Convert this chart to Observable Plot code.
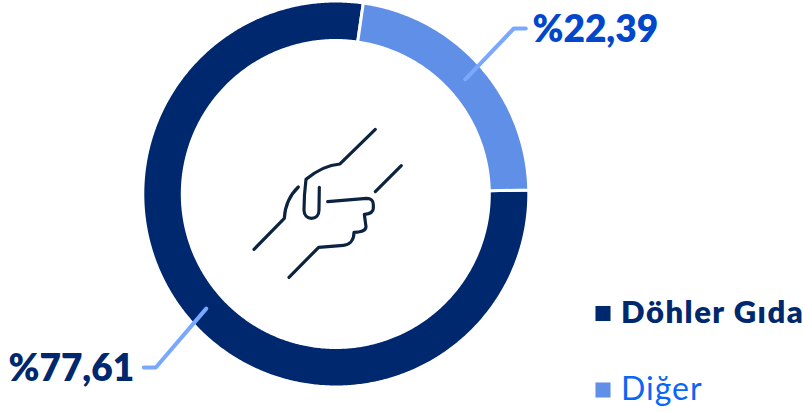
<!DOCTYPE html>
<html lang="tr">
<head>
<meta charset="utf-8">
<style>
html,body{margin:0;padding:0;background:#fff}svg{display:block}
.legend-strong text{letter-spacing:1.5px}
.legend-plain text{letter-spacing:1px}
</style>
<script src="https://cdn.jsdelivr.net/npm/d3@7"></script>
<script src="https://cdn.jsdelivr.net/npm/@observablehq/plot@0.6"></script>
</head>
<body>
<div id="chart"></div>
<script>
const categories = ["Döhler Gıda", "Diğer"];
const shares = [77.61, 22.39];
const valueLabels = ["%77,61", "%22,39"];
const sliceColors = ["#00286e", "#5f8fe6"];
const legendColors = ["#00286e", "#0a66f5"];
const valueColors = ["#00286e", "#0047cc"];

const W = 803, H = 412;
const cx = 335.3, cy = 193.5, rOut = 193, rIn = 153.5, rMid = 173;
const startDeg = 88.8; // Döhler Gıda starts at the right, Diğer ends there

const polar = (deg, r) => [cx + r * Math.sin(deg * Math.PI / 180), cy - r * Math.cos(deg * Math.PI / 180)];

let acc = startDeg;
const slices = categories.map((category, i) => {
  const a0 = acc, a1 = acc + shares[i] * 3.6;
  acc = a1;
  const n = Math.ceil(a1 - a0) * 2;
  const outer = d3.range(n + 1).map(k => polar(a0 + (a1 - a0) * k / n, rOut));
  const inner = d3.range(n + 1).map(k => polar(a1 - (a1 - a0) * k / n, rIn));
  const ring = [...outer, ...inner, outer[0]].map(([x, y]) => ({x, y, category}));
  return {category, ring, mid: (a0 + a1) / 2};
});

const leaderShape = [
  {side: -1, elbow: [-180, 173.5], stub: -12},
  {side: 1, elbow: [178, -165.5], stub: 12}
];
const leaders = slices.flatMap((s, i) => {
  const [sx, sy] = polar(s.mid, rMid);
  const ex = cx + leaderShape[i].elbow[0], ey = cy + leaderShape[i].elbow[1];
  return [[sx, sy], [ex, ey], [ex + leaderShape[i].stub, ey]].map(([x, y]) => ({x, y, category: s.category}));
});

const valueTable = categories.map((category, i) => ({category, label: valueLabels[i], color: valueColors[i]}));
const legendTable = categories.map((category, i) => ({category, square: sliceColors[i], color: legendColors[i]}));

const handPaths = [
  "M436 58L330 162C295 165 258 183 228 208C224 240 222 270 222 300C222 316 232 325 245 325C258 325 267 316 267 300L268 232",
  "M205 231C180 255 165 285 163 325L72 418",
  "M293 275L410 265C422 265 430 272 430 283L430 295C430 306 420 312 403 313L408 350C408 360 395 366 372 367C372 395 355 405 340 406L266 412L177 502",
  "M436 245L514 167"
];

const handIcon = () => {
  const g = d3.create("svg:g").attr("transform", "translate(230,110) scale(0.3333)")
    .attr("fill", "none").attr("stroke", "#0b2340").attr("stroke-width", 9.5)
    .attr("stroke-linecap", "round").attr("stroke-linejoin", "round");
  handPaths.forEach(d => g.append("path").attr("d", d));
  return g.node();
};

const font = "Lato, sans-serif";

const chart = Plot.plot({
  width: W, height: H,
  margin: 0,
  x: {domain: [0, W], range: [0, W], axis: null},
  y: {domain: [0, H], range: [0, H], axis: null},
  style: {background: "#fff", fontFamily: font},
  marks: [
    ...slices.map((s, i) => Plot.line(s.ring, {
      x: "x", y: "y", fill: sliceColors[i], stroke: "#fff", strokeWidth: 3, curve: "linear"
    })),
    ...categories.map(c => Plot.line(leaders.filter(d => d.category === c), {
      x: "x", y: "y", stroke: "#7aa8ff", strokeWidth: 4, strokeLinejoin: "miter", curve: "linear"
    })),
    handIcon,
    Plot.text(valueTable, {
      x: (d, i) => i === 0 ? 8 : 532, y: (d, i) => i === 0 ? 368.5 : 30,
      text: "label", fill: "color", textAnchor: "start", fontSize: 37, fontWeight: 800, lineAnchor: "middle"
    }),
    Plot.dot(legendTable, {
      x: 602.5, y: (d, i) => i === 0 ? 313 : 389.5, symbol: "square", r: 8.5, fill: "square", stroke: "none"
    }),
    Plot.text(legendTable.slice(0, 1), {
      x: 620.5, y: 313, text: "category", fill: "color", textAnchor: "start", fontSize: 31, fontWeight: 800, lineAnchor: "middle", className: "legend-strong"
    }),
    Plot.text(legendTable.slice(1), {
      x: 620.5, y: 389.5, text: "category", fill: "color", textAnchor: "start", fontSize: 32, fontWeight: 400, lineAnchor: "middle", className: "legend-plain"
    })
  ]
});
document.getElementById("chart").append(chart);
</script>
</body>
</html>
